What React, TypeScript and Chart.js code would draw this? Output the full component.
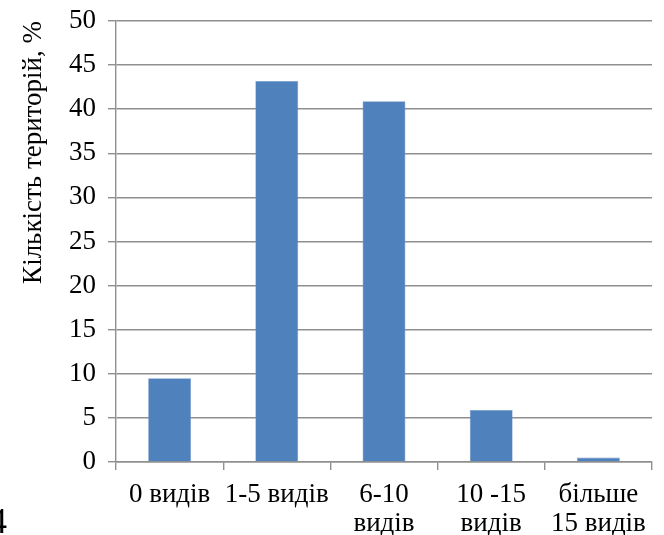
import React, { useEffect, useRef } from "react";
import { Chart, registerables } from "chart.js";

Chart.register(...registerables);

const categories: string[][] = [
  ["0 видів"],
  ["1-5 видів"],
  ["6-10", "видів"],
  ["10 -15", "видів"],
  ["більше", "15 видів"],
];
const values: number[] = [9.5, 43.2, 40.9, 5.9, 0.5];
const yMin = 0;
const yMax = 50;
const yStep = 5;
const yTitle = "Кількість територій, %";
const strayText = "4";

const GRID = "#8f8f8f";
const BAR = "#4F81BD";
const FONT = "'Liberation Serif', 'Times New Roman', serif";

export default function App() {
  const ref = useRef<HTMLCanvasElement | null>(null);

  useEffect(() => {
    if (!ref.current) return;
    const chart = new Chart(ref.current, {
      type: "bar",
      data: {
        labels: categories,
        datasets: [
          {
            data: values,
            backgroundColor: BAR,
            borderColor: "#6f97c8",
            borderWidth: 0.6,
            categoryPercentage: 0.4,
            barPercentage: 1,
          },
        ],
      },
      options: {
        animation: false,
        responsive: false,
        maintainAspectRatio: false,
        layout: { padding: { left: 0, right: 12, top: 21, bottom: 0 } },
        plugins: { legend: { display: false }, tooltip: { enabled: false } },
        scales: {
          x: {
            offset: true,
            afterFit: (s: any) => {
              s.height = 73;
              s.paddingLeft = 0;
              s.paddingRight = 0;
            },
            grid: {
              offset: true,
              drawOnChartArea: true,
              color: (ctx: any) =>
                ctx.index === categories.length ? GRID : "rgba(0,0,0,0)",
              tickColor: GRID,
              tickLength: 8,
              lineWidth: 1.4,
            },
            border: { display: true, color: GRID, width: 1.4 },
            ticks: {
              color: "#000",
              font: { family: FONT, size: 27, lineHeight: 1.05 },
              padding: 11,
              maxRotation: 0,
              autoSkip: false,
            },
          },
          y: {
            min: yMin,
            max: yMax,
            afterFit: (s: any) => {
              s.width = 116;
              s.paddingTop = 0;
              s.paddingBottom = 0;
            },
            grid: {
              color: GRID,
              lineWidth: 1.4,
              tickLength: 8,
              tickColor: GRID,
            },
            border: { display: true, color: GRID, width: 1.4 },
            ticks: {
              stepSize: yStep,
              color: "#000",
              font: { family: FONT, size: 27 },
              padding: 12,
            },
            title: {
              display: true,
              text: yTitle,
              align: "end",
              color: "#000",
              font: { family: FONT, size: 27, lineHeight: 1.2 },
              padding: { top: 18, bottom: 0 },
            },
          },
        },
      },
    });
    return () => chart.destroy();
  }, []);

  return (
    <div
      style={{
        position: "fixed",
        left: 0,
        top: 0,
        width: 664,
        height: 535,
        background: "#fff",
        overflow: "hidden",
      }}
    >
      <canvas ref={ref} width={664} height={535} style={{ width: 664, height: 535 }} />
      <span
        style={{
          position: "absolute",
          left: -11,
          top: 503,
          fontFamily: FONT,
          fontSize: 36,
          lineHeight: "36px",
          color: "#000",
        }}
      >
        {strayText}
      </span>
    </div>
  );
}
